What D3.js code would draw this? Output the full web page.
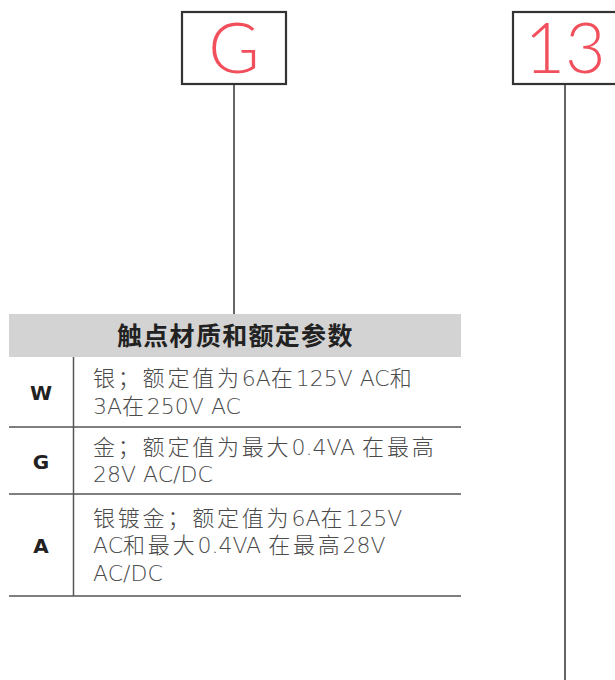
<!DOCTYPE html>
<html>
<head>
<meta charset="utf-8">
<script src="https://cdn.jsdelivr.net/npm/d3@7"></script>
<style>
  html, body { margin: 0; padding: 0; background: #fff; }
  svg { display: block; }
</style>
</head>
<body>
<script>
// ---- data ----
const boxLabels = ["G", "13"];
const headerTitle = "触点材质和额定参数";
const codes = ["W", "G", "A"];
const descriptions = [
  ["银；额定值为6A在125V AC和", "3A在250V AC"],
  ["金；额定值为最大0.4VA 在最高", "28V AC/DC"],
  ["银镀金；额定值为6A在125V", "AC和最大0.4VA 在最高28V", "AC/DC"]
];

// ---- layout ----
const W = 615, H = 680;
const svg = d3.select("body").append("svg").attr("width", W).attr("height", H);

const red = "#f24f5c", dark = "#333", grey = "#4a4a4a";
const cjk = "'Noto Sans CJK SC', 'Noto Sans', sans-serif";
const latin = "'DejaVu Sans', sans-serif";

// boxes
const boxX = d3.scaleOrdinal().domain(boxLabels).range([182, 513]);
const boxW = 104, boxTop = 12, boxH = 72;
const boxes = svg.selectAll("g.box").data(boxLabels).join("g").attr("class", "box");
boxes.append("rect")
  .attr("x", d => boxX(d)).attr("y", boxTop)
  .attr("width", boxW).attr("height", boxH)
  .attr("fill", "#fff").attr("stroke", dark).attr("stroke-width", 2.2);
boxes.append("text")
  .attr("x", d => boxX(d) + boxW / 2).attr("y", boxTop + boxH / 2 + 25)
  .attr("text-anchor", "middle")
  .attr("font-family", "Lato, 'Noto Sans', sans-serif")
  .attr("font-weight", 300)
  .attr("font-size", 70)
  .attr("fill", red)
  .text(d => d);

// connector lines
const lineEnds = [314, 680];
boxes.append("line")
  .attr("x1", d => boxX(d) + boxW / 2).attr("x2", d => boxX(d) + boxW / 2)
  .attr("y1", boxTop + boxH).attr("y2", (d, i) => lineEnds[i])
  .attr("stroke", dark).attr("stroke-width", 1.5);

// table
const tX0 = 9, tX1 = 461, divX = 73.5;
const headTop = 314, headBot = 357;
svg.append("rect").attr("x", tX0).attr("y", headTop)
  .attr("width", tX1 - tX0).attr("height", headBot - headTop)
  .attr("fill", "#d3d3d3");
svg.append("text").attr("x", 117).attr("y", 345)
  .attr("font-family", cjk).attr("font-weight", 700)
  .attr("font-size", 25).attr("letter-spacing", 1.3)
  .attr("fill", "#222").text(headerTitle);

const rowBottoms = [427, 494, 596];
const rowTops = [headBot, ...rowBottoms.slice(0, -1)];
const lineH = 27.5;

svg.append("line").attr("x1", divX).attr("x2", divX)
  .attr("y1", headBot).attr("y2", rowBottoms[rowBottoms.length - 1])
  .attr("stroke", "#555").attr("stroke-width", 1.5);

const rows = svg.selectAll("g.row").data(codes).join("g").attr("class", "row");
rows.append("line")
  .attr("x1", tX0).attr("x2", tX1)
  .attr("y1", (d, i) => rowBottoms[i]).attr("y2", (d, i) => rowBottoms[i])
  .attr("stroke", "#555").attr("stroke-width", 1.5);
rows.append("text")
  .attr("x", 41).attr("y", (d, i) => (rowTops[i] + rowBottoms[i]) / 2 + 8)
  .attr("text-anchor", "middle")
  .attr("font-family", latin).attr("font-weight", 700)
  .attr("font-size", 20).attr("fill", "#222")
  .text(d => d);

const cjkRe = /[\u3000-\u9fff\uff00-\uffef]/;
function runs(s) {
  return s.match(/[\u3000-\u9fff\uff00-\uffef]+|[^\u3000-\u9fff\uff00-\uffef]+/g);
}
rows.each(function(d, i) {
  const lines = descriptions[i];
  const mid = (rowTops[i] + rowBottoms[i]) / 2;
  const first = mid - (lines.length - 1) * lineH / 2 + 8;
  const t = d3.select(this).selectAll("text.desc").data(lines).join("text")
    .attr("class", "desc")
    .attr("x", 93).attr("y", (l, j) => first + j * lineH)
    .attr("fill", grey)
    .style("white-space", "pre");
  t.selectAll("tspan").data(l => runs(l)).join("tspan")
    .attr("font-family", r => cjkRe.test(r) ? cjk : latin)
    .attr("font-weight", r => cjkRe.test(r) ? 300 : 200)
    .attr("font-size", 22)
    .attr("letter-spacing", r => cjkRe.test(r) ? 2.8 : 0)
    .text(r => r);
});
</script>
</body>
</html>
